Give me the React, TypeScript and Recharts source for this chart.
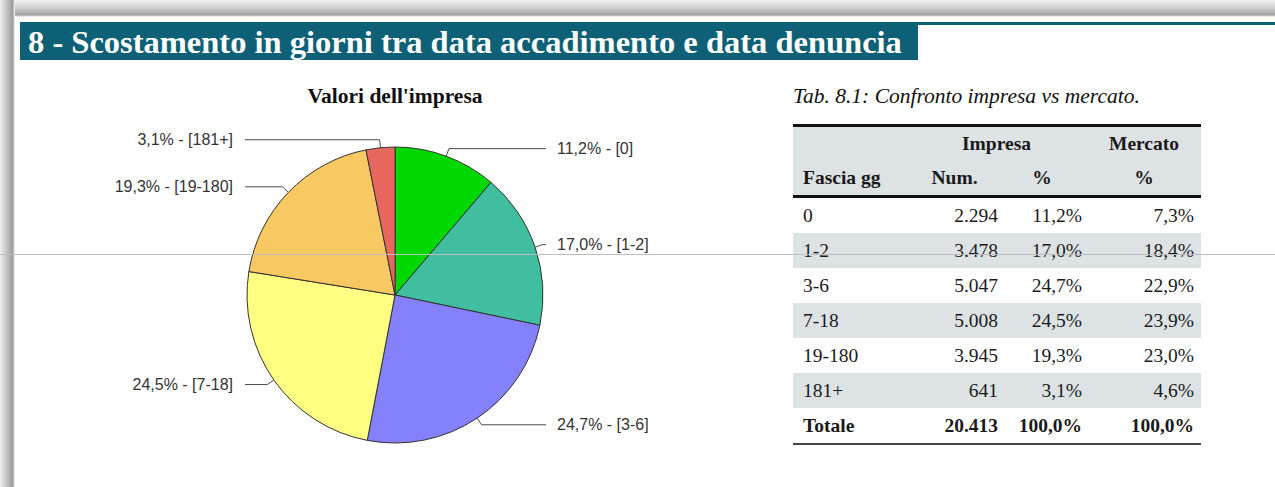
import React from 'react';
import { PieChart, Pie, Cell } from 'recharts';

const fasce = ['0', '1-2', '3-6', '7-18', '19-180', '181+'];
const impresaNum = [2294, 3478, 5047, 5008, 3945, 641];
const impresaPct = [11.2, 17.0, 24.7, 24.5, 19.3, 3.1];
const mercatoPct = [7.3, 18.4, 22.9, 23.9, 23.0, 4.6];
const totaleNum = 20413;
const totalePct = [100.0, 100.0];

const sliceColors = ['#00d800', '#41bea0', '#8581fd', '#ffff82', '#f8c862', '#e8675f'];

const serif = '"Liberation Serif", "Times New Roman", serif';
const sans = '"Liberation Sans", Arial, sans-serif';
const RADIAN = Math.PI / 180;

// formato italiano: 2.294 / 11,2%
const fmtNum = (n: number) => String(n).replace(/\B(?=(\d{3})+(?!\d))/g, '.');
const fmtPct = (p: number) => p.toFixed(1).replace('.', ',') + '%';

const pieData = fasce.map((f, i) => ({ name: f, value: impresaNum[i], pct: impresaPct[i] }));

// etichetta con linea a gomito, stile Excel
const renderLabel = (props: any) => {
  const { cx, cy, midAngle, outerRadius, index } = props;
  const cos = Math.cos(-midAngle * RADIAN);
  const sin = Math.sin(-midAngle * RADIAN);
  const x0 = cx + outerRadius * cos;
  const y0 = cy + outerRadius * sin;
  const x1 = cx + (outerRadius + 8) * cos;
  const y1 = cy + (outerRadius + 8) * sin;
  const right = cos >= 0;
  const x2 = right ? cx + 151 : cx - 150;
  const tx = right ? cx + 162 : cx - 162;
  const d = pieData[index];
  return (
    <g>
      <polyline
        points={`${x0},${y0} ${x1},${y1} ${x2},${y1}`}
        fill="none"
        stroke="#4a4a4a"
        strokeWidth={1}
      />
      <text
        x={tx}
        y={y1}
        dy="0.35em"
        textAnchor={right ? 'start' : 'end'}
        fontFamily={sans}
        fontSize={16}
        fill="#333"
      >
        {`${fmtPct(d.pct)} - [${d.name}]`}
      </text>
    </g>
  );
};

const cellBase: React.CSSProperties = { padding: 0, height: 35, whiteSpace: 'nowrap' };

export default function App() {
  return (
    <div
      style={{
        position: 'absolute',
        left: 0,
        top: 0,
        width: 1275,
        height: 487,
        background: '#fff',
        overflow: 'hidden',
        fontFamily: serif,
      }}
    >
      {/* cornice grigia della scansione */}
      <div
        style={{
          position: 'absolute',
          left: 0,
          top: 0,
          width: 1275,
          height: 17,
          background: 'linear-gradient(to bottom, #f2f2f2 0%, #d0d0d0 45%, #a2a2a2 88%, #ffffff 100%)',
        }}
      />
      <div
        style={{
          position: 'absolute',
          left: 0,
          top: 0,
          width: 15,
          height: 487,
          background: 'linear-gradient(to right, #f0f0f0 0%, #c8c8c8 40%, #9c9c9c 85%, #ffffff 100%)',
        }}
      />

      {/* barra del titolo */}
      <div
        style={{
          position: 'absolute',
          left: 20,
          top: 22,
          width: 898,
          height: 38,
          background: '#0e6077',
          color: '#fff',
          fontSize: 32.5,
          fontWeight: 'bold',
          lineHeight: '40px',
          paddingLeft: 8,
          boxSizing: 'border-box',
          whiteSpace: 'nowrap',
          overflow: 'hidden',
        }}
      >
        8 - Scostamento in giorni tra data accadimento e data denuncia
      </div>
      <div style={{ position: 'absolute', left: 918, top: 22, width: 357, height: 3, background: '#0e6077' }} />

      {/* titolo del grafico */}
      <div
        style={{
          position: 'absolute',
          left: 245,
          top: 84,
          width: 300,
          textAlign: 'center',
          fontWeight: 'bold',
          fontSize: 21.5,
          color: '#111',
        }}
      >
        Valori dell'impresa
      </div>

      <div style={{ position: 'absolute', left: 0, top: 0 }}>
        <PieChart width={780} height={487}>
          <Pie
            data={pieData}
            dataKey="value"
            nameKey="name"
            cx={390}
            cy={290}
            outerRadius={148}
            startAngle={90}
            endAngle={-270}
            stroke="#333"
            strokeWidth={1}
            label={renderLabel}
            labelLine={false}
            isAnimationActive={false}
          >
            {pieData.map((d, i) => (
              <Cell key={d.name} fill={sliceColors[i]} />
            ))}
          </Pie>
        </PieChart>
      </div>

      {/* tabella */}
      <div
        style={{
          position: 'absolute',
          left: 793,
          top: 84,
          fontStyle: 'italic',
          fontSize: 21.5,
          color: '#111',
          whiteSpace: 'nowrap',
        }}
      >
        Tab. 8.1: Confronto impresa vs mercato.
      </div>
      <table
        style={{
          position: 'absolute',
          left: 793,
          top: 124,
          width: 408,
          borderCollapse: 'collapse',
          tableLayout: 'fixed',
          fontSize: 19.5,
          color: '#1a1a1a',
          borderTop: '3px solid #111',
          borderBottom: '2px solid #444',
        }}
      >
        <colgroup>
          <col style={{ width: 107 }} />
          <col style={{ width: 103 }} />
          <col style={{ width: 84 }} />
          <col style={{ width: 114 }} />
        </colgroup>
        <thead style={{ background: '#dde3e5', fontWeight: 'bold' }}>
          <tr>
            <th style={{ ...cellBase, height: 34 }} />
            <th colSpan={2} style={{ ...cellBase, height: 34, textAlign: 'center', paddingLeft: 6 }}>
              Impresa
            </th>
            <th style={{ ...cellBase, height: 34, textAlign: 'center' }}>Mercato</th>
          </tr>
          <tr style={{ borderBottom: '3px solid #111' }}>
            <th style={{ ...cellBase, height: 34, textAlign: 'left', paddingLeft: 10 }}>Fascia gg</th>
            <th style={{ ...cellBase, height: 34, textAlign: 'center', paddingLeft: 6 }}>Num.</th>
            <th style={{ ...cellBase, height: 34, textAlign: 'center', paddingRight: 6 }}>%</th>
            <th style={{ ...cellBase, height: 34, textAlign: 'center' }}>%</th>
          </tr>
        </thead>
        <tbody>
          {fasce.map((f, i) => (
            <tr key={f} style={{ background: i % 2 === 1 ? '#dde3e5' : '#fff' }}>
              <td style={{ ...cellBase, paddingLeft: 10 }}>{f}</td>
              <td style={{ ...cellBase, textAlign: 'right', paddingRight: 5 }}>{fmtNum(impresaNum[i])}</td>
              <td style={{ ...cellBase, textAlign: 'right', paddingRight: 5 }}>{fmtPct(impresaPct[i])}</td>
              <td style={{ ...cellBase, textAlign: 'right', paddingRight: 7 }}>{fmtPct(mercatoPct[i])}</td>
            </tr>
          ))}
          <tr style={{ fontWeight: 'bold' }}>
            <td style={{ ...cellBase, paddingLeft: 10 }}>Totale</td>
            <td style={{ ...cellBase, textAlign: 'right', paddingRight: 5 }}>{fmtNum(totaleNum)}</td>
            <td style={{ ...cellBase, textAlign: 'right', paddingRight: 5 }}>{fmtPct(totalePct[0])}</td>
            <td style={{ ...cellBase, textAlign: 'right', paddingRight: 7 }}>{fmtPct(totalePct[1])}</td>
          </tr>
        </tbody>
      </table>

      {/* riga sottile della scansione */}
      <div style={{ position: 'absolute', left: 0, top: 254, width: 1275, height: 1, background: '#bdbdbd' }} />
    </div>
  );
}
